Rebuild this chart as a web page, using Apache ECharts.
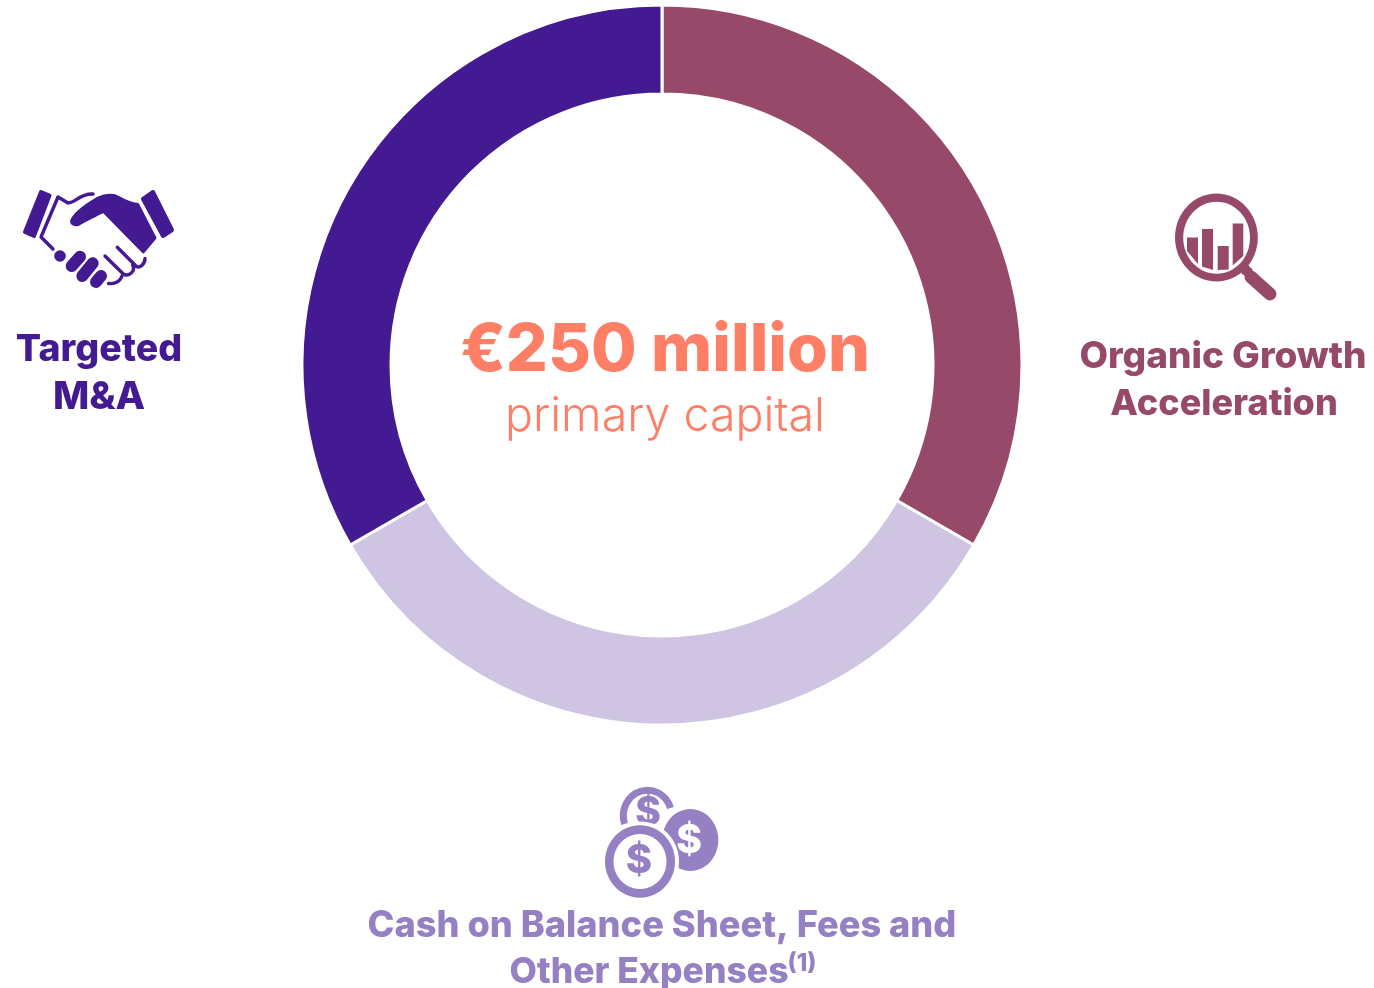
<!DOCTYPE html>
<html><head><meta charset="utf-8">
<style>html,body{margin:0;padding:0;background:#fff}#c{width:1374px;height:988px}</style>
<script src="https://cdn.jsdelivr.net/npm/echarts@6/dist/echarts.min.js"></script>
</head><body><div id="c"></div>
<script>
const categories = ['Organic Growth Acceleration', 'Cash on Balance Sheet, Fees and Other Expenses', 'Targeted M&A'];
const shares = [83.33, 83.33, 83.33];
const sliceColors = ['#964968', '#CFC5E3', '#431A92'];
const headline = '€250 million';
const subline = 'primary capital';

const FONT = 'Inter, "Noto Sans", sans-serif';
const PURPLE = '#431A92', MAROON = '#964968', LILAC = '#9480C2', CORAL = '#FF7E66';
const FULL = 'M0 0L0 0M1374 988L1374 988';
function pathEl(d, style) { return {type:'path', shape:{pathData:FULL+d,x:0,y:0,width:1374,height:988,layout:'cover'}, style}; }
function fill(d, color) { return pathEl(d,{fill:color,stroke:null}); }
function line(d, color, w) { return pathEl(d,{fill:'none',stroke:color,lineWidth:w,lineCap:'round',lineJoin:'round'}); }
function fillStroke(d, color, w) { return pathEl(d,{fill:color,stroke:color,lineWidth:w,lineJoin:'round',lineCap:'round'}); }
function circ(cx,cy,r,f){ return {type:'circle', shape:{cx,cy,r}, style:{fill:f}}; }
function ell(cx,cy,rx,ry,f){ return {type:'ellipse', shape:{cx,cy,rx,ry}, style:{fill:f}}; }
function dollar(x,y,size,color){ return {type:'text', style:{text:'$',x,y,fill:color,font:'800 '+size+'px '+FONT,textAlign:'center',textVerticalAlign:'middle'}}; }

const handshake = [
  fillStroke('M41 192L49.5 195.5L34 236L25 232Z', PURPLE, 4),
  fillStroke('M153 192L172 230L163 236L143 199Z', PURPLE, 4),
  fillStroke('M71 221C73 215 80 208 97 198C108 193 114 194 119 197C126 201 131 203 138 204L155.5 238L143.3 252.5L103.5 212C98 214 90 219 78 225C74 226 71 224 71 221Z', PURPLE, 2),
  line('M53 249L41 237L58 197L68 203C76 203 80 193 93 194', PURPLE, 3.4),
  circ(60,256,5.8,PURPLE),
  line('M71.7 266L80 256.7', PURPLE, 12),
  line('M82.3 276L92.7 263.3', PURPLE, 12),
  line('M96 282L101 276', PURPLE, 12),
  line('M117.3 247.3L136.7 266.7C140 268 145 264 145 258.5', PURPLE, 3.4),
  line('M105 256L123.3 274C128 277 136 272 132.7 265', PURPLE, 3.4),
  line('M122 276C120 282 114 284 108.5 283.5', PURPLE, 3.4)
];

const magnifier = [
  ell(1216.4,237.5,41.4,44,MAROON),
  ell(1216.6,237.7,33.4,36,'#fff'),
  fill('M1187 237.5L1198 237.5L1198 264L1187 251Z', MAROON),
  fill('M1202 229L1213 229L1213 270L1202 266.5Z', MAROON),
  fill('M1217.7 246L1228.7 246L1228.7 269.5L1217.7 270Z', MAROON),
  fill('M1232.7 223.5L1243.3 223.5L1243.3 256L1232.7 265.6Z', MAROON),
  fill('M1241 273L1248 265L1253 270L1246 277Z', MAROON),
  line('M1251 277L1270 294', MAROON, 13)
];

const coins = [
  pathEl('M624.5 824A23.5 25 0 1 1 670.5 808', {fill:'none',stroke:LILAC,lineWidth:7}),
  dollar(648,813,39,LILAC),
  ell(690.3,840,31.5,34.5,'#fff'),
  ell(690.3,840,28,31,LILAC),
  dollar(689,841,39,'#fff'),
  ell(640,861.5,39,40,'#fff'),
  ell(640,861.5,35,36.2,LILAC),
  ell(640,861.5,26.5,27.5,'#fff'),
  dollar(639,861,40,LILAC)
];

function label(text,x,y,size,color,weight){ return {type:'text', silent:true, style:{text,x,y,fill:color,font:(weight||800)+' '+size+'px '+FONT,textAlign:'center',textVerticalAlign:'middle'}}; }

const chart = echarts.init(document.getElementById('c'), null, {renderer:'canvas'});
chart.setOption({
  animation:false,
  backgroundColor:'#fff',
  series:[
    {type:'pie', silent:true, startAngle:90, center:[662,365], radius:[271,360],
     label:{show:false}, labelLine:{show:false},
     itemStyle:{borderColor:'#fff',borderWidth:3},
     data:categories.map((name,i)=>({name,value:shares[i],itemStyle:{color:sliceColors[i]}}))},
    {type:'custom', coordinateSystem:'none', silent:true, data:[0],
     renderItem:()=>({type:'group',children:[...handshake,...magnifier,...coins]})}
  ],
  graphic:[
    label(headline,665,351,66,CORAL,800),
    label(subline,665,417,46.5,CORAL,300),
    label('Targeted',99,350,37.5,PURPLE),
    label('M&A',99,397,38.5,PURPLE),
    label('Organic Growth',1223,357,37,MAROON),
    label('Acceleration',1224,404,36,MAROON),
    label('Cash on Balance Sheet, Fees and',662,926,36.2,LILAC),
    label('Other Expenses',649,972,35.5,LILAC),
    label('(1)',802,964,24,LILAC)
  ]
});
</script></body></html>
